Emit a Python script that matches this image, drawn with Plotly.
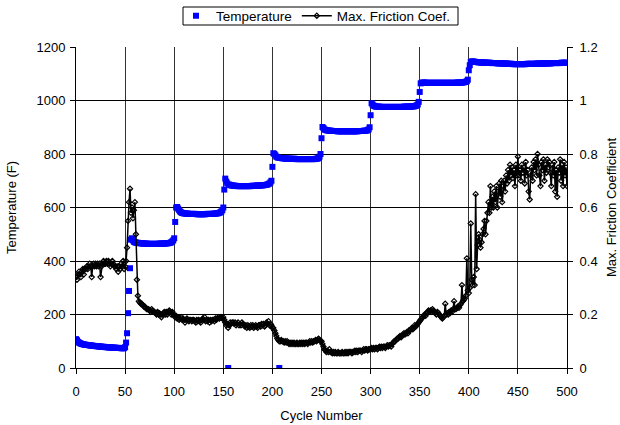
import plotly.graph_objects as go

cycles = list(range(501))

temperature = [
    108, 104, 98, 95, 93, 91, 90, 89, 88, 87,
    87, 86, 86, 85, 85, 84, 84, 83, 83, 82,
    82, 82, 81, 81, 80, 80, 80, 79, 79, 79,
    78, 78, 78, 77, 77, 77, 77, 76, 76, 76,
    76, 75, 75, 75, 75, 75, 74, 74, 74, 74,
    78, 95, 130, 205, 288, 373, 480, 485, 477, 472,
    470, 469, 468, 468, 467, 467, 466, 466, 466, 465,
    465, 465, 465, 464, 464, 464, 464, 464, 464, 464,
    464, 464, 464, 464, 464, 465, 465, 465, 465, 465,
    465, 466, 466, 466, 467, 467, 468, 470, 473, 477,
    485, 546, 600, 602, 596, 590, 585, 582, 580, 579,
    578, 578, 577, 577, 577, 576, 576, 576, 576, 576,
    576, 576, 576, 575, 575, 575, 575, 575, 575, 575,
    575, 575, 575, 576, 576, 576, 576, 576, 576, 576,
    577, 577, 577, 578, 578, 579, 580, 582, 585, 590,
    600, 667, 708, 697, 690, 0, 686, 684, 683, 682,
    682, 681, 681, 681, 680, 680, 680, 680, 680, 680,
    680, 680, 680, 680, 680, 680, 680, 680, 680, 681,
    681, 681, 681, 681, 682, 682, 682, 682, 683, 683,
    683, 683, 684, 684, 685, 686, 688, 690, 694, 700,
    752, 803, 800, 795, 790, 788, 786, 0, 785, 785,
    784, 784, 784, 783, 783, 783, 783, 782, 782, 782,
    782, 782, 782, 782, 781, 781, 781, 781, 781, 781,
    781, 781, 781, 781, 781, 781, 781, 781, 781, 781,
    781, 781, 781, 781, 782, 782, 783, 785, 790, 800,
    859, 901, 897, 892, 890, 889, 888, 888, 887, 887,
    887, 886, 886, 886, 886, 886, 885, 885, 885, 885,
    885, 885, 885, 885, 885, 885, 885, 885, 885, 885,
    885, 885, 885, 885, 885, 885, 885, 885, 886, 886,
    886, 886, 886, 887, 887, 887, 888, 889, 892, 900,
    945, 990, 985, 981, 979, 978, 977, 977, 977, 977,
    976, 976, 976, 976, 976, 976, 976, 976, 976, 976,
    976, 976, 976, 976, 976, 976, 976, 976, 976, 976,
    976, 976, 976, 976, 977, 977, 977, 977, 977, 977,
    977, 977, 978, 978, 978, 979, 980, 982, 985, 995,
    1032, 1064, 1066, 1067, 1067, 1067, 1066, 1066, 1066, 1066,
    1066, 1066, 1066, 1066, 1066, 1066, 1066, 1066, 1066, 1066,
    1066, 1066, 1066, 1066, 1066, 1066, 1066, 1066, 1066, 1066,
    1066, 1066, 1066, 1066, 1066, 1066, 1066, 1066, 1067, 1067,
    1067, 1067, 1067, 1067, 1068, 1068, 1069, 1070, 1072, 1078,
    1113, 1132, 1144, 1146, 1146, 1145, 1145, 1144, 1144, 1143,
    1143, 1143, 1142, 1142, 1142, 1142, 1142, 1141, 1141, 1141,
    1141, 1141, 1141, 1140, 1140, 1140, 1140, 1140, 1140, 1139,
    1139, 1139, 1139, 1139, 1139, 1138, 1138, 1138, 1138, 1138,
    1137, 1137, 1137, 1137, 1137, 1136, 1136, 1136, 1136, 1136,
    1136, 1136, 1136, 1136, 1136, 1136, 1136, 1136, 1136, 1137,
    1137, 1137, 1137, 1137, 1137, 1137, 1137, 1137, 1137, 1138,
    1138, 1138, 1138, 1138, 1138, 1138, 1138, 1138, 1139, 1139,
    1139, 1139, 1139, 1139, 1139, 1140, 1140, 1140, 1140, 1140,
    1140, 1140, 1140, 1140, 1141, 1141, 1141, 1141, 1141, 1141,
    1141,
]

friction = [
    .34, .33, .35, .36, .35, .34, .36, .37, .35, .37,
    .37, .38, .37, .38, .39, .38, .34, .38, .39, .38,
    .39, .38, .39, .38, .39, .34, .38, .39, .40, .39,
    .39, .40, .39, .40, .39, .38, .39, .40, .39, .38,
    .38, .37, .38, .36, .38, .37, .39, .38, .40, .37,
    .38, .40, .45, .55, .62, .67, .58, .60, .56, .59,
    .62, .50, .33, .27, .25, .245, .24, .24, .235, .23,
    .23, .225, .22, .22, .22, .215, .21, .22, .215, .21,
    .21, .205, .20, .21, .20, .205, .20, .19, .20, .205,
    .21, .20, .21, .20, .21, .215, .21, .20, .21, .20,
    .20, .19, .195, .185, .19, .18, .185, .19, .18, .185,
    .18, .17, .18, .185, .18, .175, .18, .18, .175, .18,
    .18, .175, .17, .18, .175, .18, .175, .17, .18, .185,
    .18, .19, .175, .18, .175, .18, .17, .18, .175, .18,
    .18, .175, .185, .18, .185, .19, .185, .19, .19, .185,
    .19, .18, .17, .16, .165, .15, .16, .17, .165, .17,
    .17, .165, .17, .16, .165, .17, .16, .165, .16, .17,
    .165, .16, .155, .16, .15, .16, .155, .15, .16, .155,
    .16, .15, .155, .16, .155, .15, .16, .16, .155, .165,
    .16, .165, .155, .16, .17, .165, .175, .16, .165, .16,
    .15, .15, .14, .13, .12, .11, .105, .10, .10, .105,
    .10, .10, .095, .10, .095, .10, .095, .09, .095, .09,
    .095, .09, .095, .09, .09, .095, .09, .09, .095, .09,
    .095, .09, .095, .09, .095, .095, .09, .095, .10, .095,
    .10, .095, .10, .10, .105, .10, .105, .11, .105, .10,
    .10, .09, .08, .07, .065, .06, .065, .06, .07, .06,
    .06, .055, .06, .055, .06, .055, .055, .06, .055, .055,
    .055, .06, .055, .055, .06, .055, .06, .055, .06, .06,
    .06, .055, .06, .06, .065, .06, .065, .06, .065, .065,
    .065, .06, .065, .07, .065, .07, .07, .065, .07, .07,
    .07, .075, .07, .075, .07, .075, .075, .07, .075, .08,
    .075, .08, .075, .08, .08, .075, .08, .085, .08, .085,
    .085, .08, .09, .095, .10, .10, .105, .11, .11, .115,
    .12, .115, .12, .125, .13, .125, .13, .135, .13, .14,
    .14, .145, .15, .145, .15, .16, .155, .16, .165, .17,
    .175, .18, .185, .19, .195, .20, .195, .205, .21, .215,
    .21, .215, .21, .22, .215, .21, .205, .20, .21, .205,
    .20, .195, .19, .185, .19, .195, .24, .20, .205, .20,
    .21, .205, .215, .21, .22, .25, .22, .22, .225, .23,
    .225, .235, .24, .31, .25, .255, .26, .27, .41, .29,
    .28, .30, .54, .33, .31, .34, .31, .65, .37, .46,
    .50, .48, .45, .47, .50, .52, .55, .50, .55, .58,
    .62, .58, .68, .60, .64, .60, .66, .62, .68, .60,
    .66, .69, .64, .70, .62, .68, .70, .66, .72, .69,
    .74, .70, .76, .72, .75, .71, .74, .68, .76, .72,
    .79, .72, .74, .70, .76, .73, .75, .69, .77, .72,
    .74, .66, .63, .72, .75, .70, .77, .74, .78, .72,
    .80, .76, .72, .68, .77, .74, .78, .70, .76, .73,
    .78, .75, .77, .73, .68, .76, .72, .77, .66, .74,
    .64, .75, .73, .78, .70, .76, .68, .77, .72, .75,
    .68,
]

FONT = "Liberation Sans, Arial, sans-serif"
FS = 13

L, R, T, B = 76, 53, 47, 57
PW, PH = 620 - L - R, 425 - T - B

fig = go.Figure()
fig.add_trace(go.Scatter(
    x=cycles, y=temperature, name="Temperature", mode="markers",
    marker=dict(symbol="square", size=6, color="#0000ff", line=dict(width=0)),
))
fig.add_trace(go.Scatter(
    x=cycles, y=friction, name="Max. Friction Coef.", mode="lines+markers",
    yaxis="y2",
    line=dict(color="black", width=1.5),
    marker=dict(symbol="diamond-open", size=4, color="black", line=dict(width=1.2)),
))

axis_common = dict(
    showline=True, linecolor="black", linewidth=1, mirror=False,
    ticks="outside", ticklen=5, tickcolor="black", tickwidth=1,
    tickfont=dict(family=FONT, size=FS, color="black"),
    zeroline=False, automargin=False,
)

# legend frame (px positions converted to paper coords)
box_x0, box_x1, box_y0, box_y1 = 183, 458, 7, 25
fig.add_shape(
    type="rect", xref="paper", yref="paper",
    x0=(box_x0 - L) / PW, x1=(box_x1 - L) / PW,
    y0=(425 - B - box_y1) / PH, y1=(425 - B - box_y0) / PH,
    line=dict(color="black", width=1), fillcolor="white", layer="below",
)

fig.update_layout(
    width=620, height=425,
    margin=dict(l=L, r=R, t=T, b=B, autoexpand=False),
    paper_bgcolor="white", plot_bgcolor="white",
    font=dict(family=FONT, size=FS, color="black"),
    showlegend=True,
    legend=dict(
        orientation="h", x=(316 - L) / PW, xanchor="center",
        y=1 - 16 / 425, yanchor="middle",
        xref="paper", yref="container",
        borderwidth=0, bgcolor="rgba(0,0,0,0)",
        font=dict(family=FONT, size=13.5, color="black"),
        itemwidth=30, tracegroupgap=0,
    ),
    xaxis=dict(
        range=[0, 500], dtick=50, tick0=0,
        showgrid=True, gridcolor="#333333", gridwidth=1,
        ticklabelstandoff=6,
        title=dict(text="Cycle Number", font=dict(family=FONT, size=FS), standoff=13),
        **axis_common,
    ),
    yaxis=dict(
        range=[0, 1200], dtick=200, tick0=0,
        showgrid=True, gridcolor="black", gridwidth=1,
        ticklabelstandoff=2,
        title=dict(text="Temperature (F)", font=dict(family=FONT, size=FS), standoff=16),
        **axis_common,
    ),
    yaxis2=dict(
        range=[0, 1.2], dtick=0.2, tick0=0, overlaying="y", side="right",
        showgrid=False,
        ticklabelstandoff=4,
        title=dict(text="Max. Friction Coefficient", font=dict(family=FONT, size=FS), standoff=10),
        **axis_common,
    ),
)

fig.write_html("out.html")
